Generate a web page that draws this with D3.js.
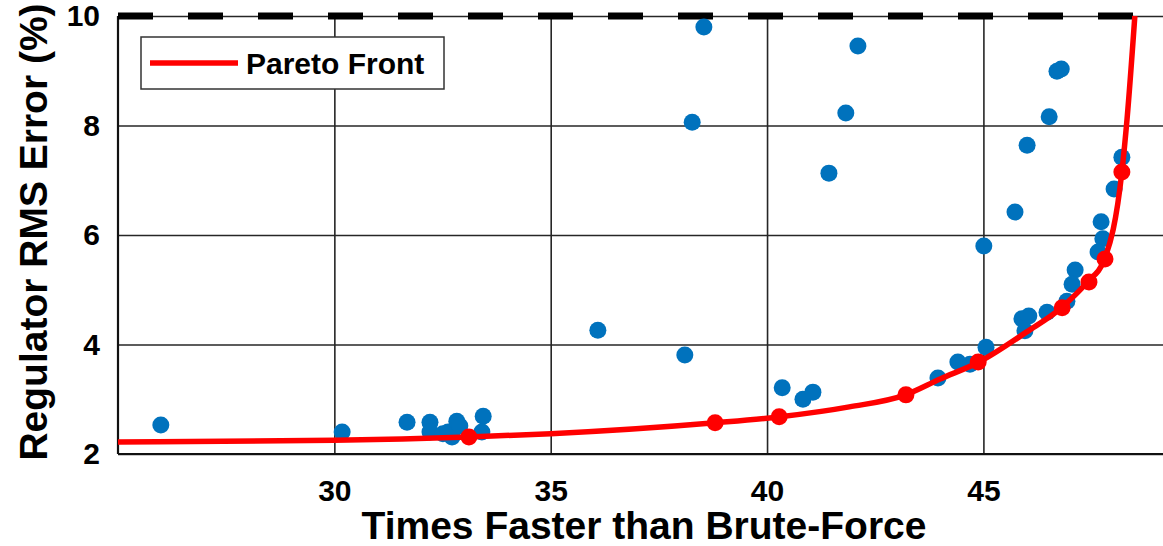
<!DOCTYPE html>
<html>
<head>
<meta charset="utf-8">
<script src="https://cdn.jsdelivr.net/npm/d3@7"></script>
<style>
  body { margin: 0; background: #fff; }
  text { font-family: "Liberation Sans", Arial, sans-serif; font-weight: bold; fill: #000; }
</style>
</head>
<body>
<script>
var width = 1163, height = 546;

// data
var xTicks = [30, 35, 40, 45, 50];
var yTicks = [2, 4, 6, 8, 10];

var pointsX = [25.99, 30.18, 31.68, 32.21, 32.21, 32.51, 32.63, 32.72, 32.83, 32.90, 33.44, 33.41,
               36.09, 38.10, 40.35, 40.83, 41.06,
               38.54, 38.27, 42.10, 41.82, 41.43,
               46.70, 46.80, 46.52, 46.01, 48.20, 48.02,
               45.73, 45.01, 47.72, 47.76, 47.65, 47.12, 47.05, 46.93, 46.47, 45.89, 46.05, 45.96,
               45.06, 44.69, 44.41, 43.95];
var pointsY = [2.53, 2.40, 2.58, 2.58, 2.40, 2.37, 2.40, 2.31, 2.60, 2.51, 2.69, 2.40,
               4.26, 3.81, 3.21, 3.00, 3.13,
               9.80, 8.06, 9.45, 8.23, 7.13,
               8.99, 9.03, 8.16, 7.64, 7.42, 6.84,
               6.42, 5.80, 6.24, 5.93, 5.69, 5.36, 5.10, 4.79, 4.59, 4.47, 4.52, 4.25,
               3.95, 3.64, 3.68, 3.39];

var paretoX = [33.11, 38.80, 40.28, 43.21, 44.88, 46.82, 47.44, 47.81, 48.20];
var paretoY = [2.31, 2.57, 2.68, 3.08, 3.68, 4.67, 5.14, 5.56, 7.15];

var frontX = [25, 30, 33.1, 35, 38.8, 40.3, 41.9, 43.2, 44.0, 44.9, 46.0, 46.8, 47.4, 47.8, 48.2, 48.32, 48.5];
var frontY = [2.22, 2.25, 2.31, 2.37, 2.57, 2.68, 2.86, 3.08, 3.37, 3.68, 4.23, 4.67, 5.14, 5.56, 7.15, 8.12, 10];

var plotLeft = 118, plotTop = 16, plotBottom = 454;

var x = d3.scaleLinear().domain([25, 50]).range([plotLeft, plotLeft + 25 * 43.27]);
var y = d3.scaleLinear().domain([2, 10]).range([plotBottom, plotTop]);

var svg = d3.select("body").append("svg")
    .attr("width", width)
    .attr("height", height);

svg.append("rect").attr("width", width).attr("height", height).attr("fill", "#fff");

// grid + tick labels
var gx = svg.append("g")
    .attr("transform", "translate(0," + plotBottom + ")")
    .call(d3.axisBottom(x).tickValues(xTicks).tickSize(-(plotBottom - plotTop)).tickPadding(26)
        .tickFormat(function (d) { return d < 50 ? d : ""; }));
gx.select(".domain").remove();
gx.selectAll(".tick line").attr("stroke", "#262626").attr("stroke-width", 1.6);
gx.selectAll(".tick text").style("font-size", "30px");

var gy = svg.append("g")
    .attr("transform", "translate(" + plotLeft + ",0)")
    .call(d3.axisLeft(y).tickValues(yTicks).tickSize(-(width - plotLeft)).tickPadding(18));
gy.select(".domain").remove();
gy.selectAll(".tick line").attr("stroke", "#262626").attr("stroke-width", 1.6);
gy.selectAll(".tick text").style("font-size", "30px");

// axis box lines
svg.append("line").attr("x1", plotLeft).attr("x2", plotLeft).attr("y1", plotTop).attr("y2", plotBottom)
    .attr("stroke", "#111").attr("stroke-width", 2.2);
svg.append("line").attr("x1", plotLeft).attr("x2", width).attr("y1", plotBottom).attr("y2", plotBottom)
    .attr("stroke", "#111").attr("stroke-width", 2.2);

// 10% threshold dashed line
svg.append("line")
    .attr("x1", x(25)).attr("x2", width)
    .attr("y1", y(10)).attr("y2", y(10))
    .attr("stroke", "#000").attr("stroke-width", 7)
    .attr("stroke-dasharray", "35,35");

// scatter
var pts = pointsX.map(function (v, i) { return { x: v, y: pointsY[i] }; });
svg.append("g").selectAll("circle")
    .data(pts)
    .enter()
    .append("circle")
    .attr("cx", function (d) { return x(d.x); })
    .attr("cy", function (d) { return y(d.y); })
    .attr("r", 8.5)
    .attr("fill", "#0072BD");

// pareto front curve
var front = frontX.map(function (v, i) { return [v, frontY[i]]; });
var line = d3.line()
    .x(function (d) { return x(d[0]); })
    .y(function (d) { return y(d[1]); })
    .curve(d3.curveMonotoneX);
svg.append("path")
    .datum(front)
    .attr("d", line)
    .attr("fill", "none")
    .attr("stroke", "#ff0000")
    .attr("stroke-width", 5.5);

var par = paretoX.map(function (v, i) { return { x: v, y: paretoY[i] }; });
svg.append("g").selectAll("circle")
    .data(par)
    .enter()
    .append("circle")
    .attr("cx", function (d) { return x(d.x); })
    .attr("cy", function (d) { return y(d.y); })
    .attr("r", 8.5)
    .attr("fill", "#ff0000");

// legend
var lg = svg.append("g");
lg.append("rect")
    .attr("x", 141).attr("y", 37).attr("width", 303).attr("height", 52)
    .attr("fill", "#fff").attr("stroke", "#333").attr("stroke-width", 1.5);
lg.append("line")
    .attr("x1", 150).attr("x2", 238).attr("y1", 63).attr("y2", 63)
    .attr("stroke", "#ff0000").attr("stroke-width", 5.5);
lg.append("text")
    .attr("x", 246).attr("y", 74)
    .style("font-size", "30px")
    .text("Pareto Front");

// axis titles
svg.append("text")
    .attr("x", 644).attr("y", 539)
    .attr("text-anchor", "middle")
    .style("font-size", "39px")
    .text("Times Faster than Brute-Force");

svg.append("text")
    .attr("transform", "translate(47,232) rotate(-90)")
    .attr("text-anchor", "middle")
    .style("font-size", "39px")
    .text("Regulator RMS Error (%)");
</script>
</body>
</html>
